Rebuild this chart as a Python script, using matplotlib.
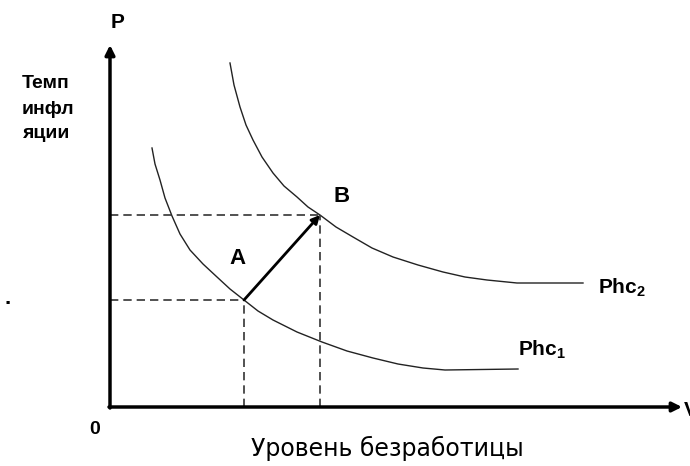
import matplotlib
matplotlib.use('Agg')
import matplotlib.pyplot as plt

plt.rcParams['font.family'] = ['Liberation Sans', 'DejaVu Sans']
plt.rcParams['mathtext.fontset'] = 'custom'
plt.rcParams['mathtext.rm'] = 'Liberation Sans:bold'
plt.rcParams['mathtext.default'] = 'rm'

# кривые Филлипса (уровень безработицы, темп инфляции)
phc1_u = [42, 45, 50, 55, 62, 70, 80, 93, 107, 120, 134, 148, 163, 187,
          212, 237, 263, 288, 313, 335, 408]
phc1_p = [259, 243, 227, 209, 191, 173, 157, 143, 130, 118, 107, 96, 87, 75,
          65, 56, 49, 43, 39, 37, 38]
phc2_u = [120, 124, 130, 136, 143, 152, 163, 174, 187, 198, 210, 226, 243,
          262, 283, 308, 333, 355, 377, 407, 473]
phc2_p = [344, 322, 300, 282, 267, 250, 234, 221, 210, 200, 192, 180, 170,
          159, 150, 142, 135, 130, 127, 124, 124]

# точки A и B
point_a = (134, 107)
point_b = (210, 192)

fig = plt.figure(figsize=(6.9, 4.66), dpi=100)
ax = fig.add_axes([0, 0, 1, 1])
ax.set_xlim(-110, 580)
ax.set_ylim(-59, 407)
ax.axis('off')

# кривые
ax.plot(phc1_u, phc1_p, color='#222222', lw=1.0)
ax.plot(phc2_u, phc2_p, color='#222222', lw=1.0)

# пунктирные проекции
dash = dict(color='#333333', lw=1.2, dashes=(5, 3))
for u, p in (point_a, point_b):
    ax.plot([0, u], [p, p], **dash)
    ax.plot([u, u], [0, p], **dash)

# стрелка A -> B
ax.annotate('', xy=point_b, xytext=point_a,
            arrowprops=dict(arrowstyle='-|>', color='black', lw=2,
                            mutation_scale=12, shrinkA=0, shrinkB=0))

# оси со стрелками
ax.annotate('', xy=(0, 362), xytext=(0, -1),
            arrowprops=dict(arrowstyle='-|>', color='black', lw=2.5,
                            mutation_scale=14, shrinkA=0, shrinkB=0))
ax.annotate('', xy=(572, 0), xytext=(-1, 0),
            arrowprops=dict(arrowstyle='-|>', color='black', lw=2.5,
                            mutation_scale=14, shrinkA=0, shrinkB=0))

# подписи
bold = dict(fontweight='bold', color='black')
ax.text(8, 385, 'P', fontsize=15, ha='center', va='center', **bold)
ax.text(574, -3, 'V', fontsize=15, ha='left', va='center', **bold)
ax.text(-15, -23, '0', fontsize=14, ha='center', va='center', **bold)
ax.text(-88, 323, 'Темп', fontsize=14, ha='left', va='center', **bold)
ax.text(-88, 297, 'инфл', fontsize=14, ha='left', va='center', **bold)
ax.text(-87, 274, 'яции', fontsize=14, ha='left', va='center', **bold)
ax.text(277, -41, 'Уровень безработицы', fontsize=17, ha='center',
        va='center', color='black', family='DejaVu Sans')
ax.text(127, 149, 'A', fontsize=16, ha='center', va='center', **bold)
ax.text(232, 210, 'B', fontsize=16, ha='center', va='center', **bold)
ax.text(488, 119, 'Phc$_2$', fontsize=15, ha='left', va='center', **bold)
ax.text(408, 57, 'Phc$_1$', fontsize=15, ha='left', va='center', **bold)
ax.text(-102, 108, '.', fontsize=16, ha='center', va='center', **bold)

fig.savefig('out.png', dpi=100)
